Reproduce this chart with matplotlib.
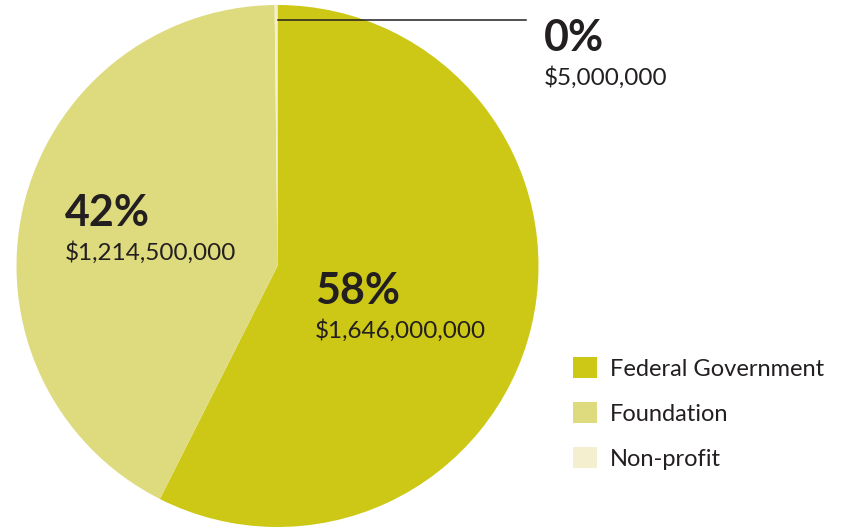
import matplotlib.pyplot as plt

# funding by source
sources = ['Federal Government', 'Foundation', 'Non-profit']
amounts = [1646000000, 1214500000, 5000000]
pct_labels = ['58%', '42%', '0%']
amount_labels = ['$1,646,000,000', '$1,214,500,000', '$5,000,000']
colors = ['#CDC816', '#DEDB7E', '#F4EFCF']

W, H = 854, 529
plt.rcParams['font.family'] = ['Lato', 'DejaVu Sans']
text_color = '#231F20'

fig = plt.figure(figsize=(W / 100, H / 100), dpi=100)
ax = fig.add_axes([0, 0, 1, 1])

# work in pixel coords (y measured from bottom)
wedges, _ = ax.pie(amounts, colors=colors, startangle=90, counterclock=False,
                   center=(277.5, H - 266), radius=261,
                   wedgeprops=dict(linewidth=0), frame=True)
ax.set_xlim(0, W)
ax.set_ylim(0, H)
ax.axis('off')

# leader line for the tiny slice
ax.plot([278, 526], [H - 20, H - 20], color=text_color, lw=1.1)

# label positions (x, baseline of pct) in pixels from top-left
label_pos = [(315, 304), (65, 226), (544, 51)]
for (x, y), p, a in zip(label_pos, pct_labels, amount_labels):
    ax.text(x, H - y, p, fontsize=31, fontweight='bold', color=text_color,
            ha='left', va='baseline')
    ax.text(x, H - y - 34, a, fontsize=17.5, color=text_color,
            ha='left', va='baseline')

ax.legend(wedges, sources, loc='upper left', bbox_to_anchor=(573 / W, 1 - 357 / H),
          frameon=False, fontsize=17, handlelength=1.0, handleheight=1.0,
          handletextpad=0.55, labelspacing=0.95, labelcolor=text_color,
          borderaxespad=0, borderpad=0)

fig.savefig('out.png', dpi=100)
